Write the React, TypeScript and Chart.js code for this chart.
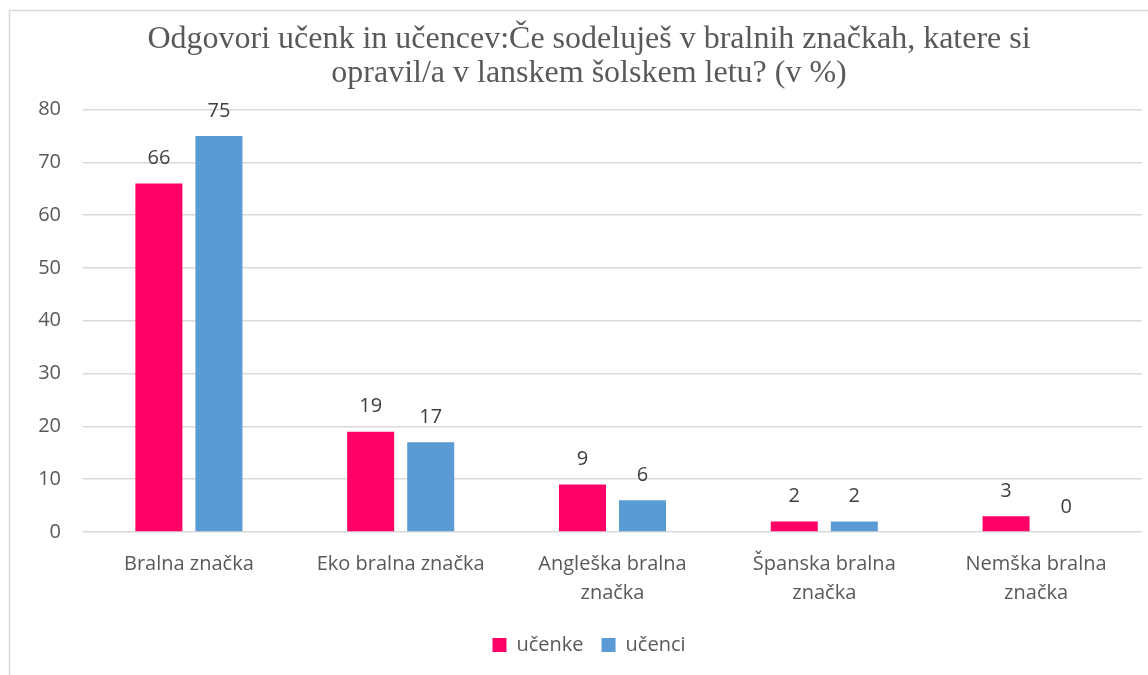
import React, { useEffect, useRef } from "react";
import { Chart, registerables } from "chart.js";

Chart.register(...registerables);

const categories: (string | string[])[] = [
  "Bralna značka",
  "Eko bralna značka",
  ["Angleška bralna", "značka"],
  ["Španska bralna", "značka"],
  ["Nemška bralna", "značka"],
];
const ucenke = [66, 19, 9, 2, 3];
const ucenci = [75, 17, 6, 2, 0];
const seriesNames = ["učenke", "učenci"];
const titleLines = [
  "Odgovori učenk in učencev:Če sodeluješ v bralnih značkah, katere si",
  "opravil/a v lanskem šolskem letu? (v %)",
];

const TEXT = "#595959";
const SANS = "'Open Sans', sans-serif";

const framePlugin = {
  id: "frame",
  beforeDraw(chart: any) {
    const ctx = chart.ctx;
    ctx.save();
    ctx.fillStyle = "#ffffff";
    ctx.fillRect(0, 0, chart.width, chart.height);
    ctx.strokeStyle = "#d9d9d9";
    ctx.lineWidth = 1.5;
    ctx.strokeRect(9.5, 10.5, 1300, 900);
    ctx.restore();
  },
};

const valueLabels = {
  id: "valueLabels",
  afterDatasetsDraw(chart: any) {
    const ctx = chart.ctx;
    ctx.save();
    ctx.font = `20px ${SANS}`;
    ctx.fillStyle = "#404040";
    ctx.textAlign = "center";
    ctx.textBaseline = "middle";
    chart.data.datasets.forEach((ds: any, i: number) => {
      const meta = chart.getDatasetMeta(i);
      meta.data.forEach((bar: any, j: number) => {
        ctx.fillText(String(ds.data[j]), bar.x, bar.y - 25);
      });
    });
    ctx.restore();
  },
};

export default function App() {
  const ref = useRef<HTMLCanvasElement>(null);
  useEffect(() => {
    if (!ref.current) return;
    const chart = new Chart(ref.current, {
      type: "bar",
      data: {
        labels: categories,
        datasets: [
          {
            label: seriesNames[0],
            data: ucenke,
            backgroundColor: "#FF0066",
            categoryPercentage: 0.567,
            barPercentage: 0.783,
          },
          {
            label: seriesNames[1],
            data: ucenci,
            backgroundColor: "#5B9BD5",
            categoryPercentage: 0.567,
            barPercentage: 0.783,
          },
        ],
      },
      options: {
        responsive: false,
        animation: false,
        layout: { padding: { top: 10, left: 36, right: 6, bottom: 10 } },
        plugins: {
          title: {
            display: true,
            text: titleLines,
            color: TEXT,
            font: { family: "'Liberation Serif', serif", size: 32, weight: "normal", lineHeight: 1.07 },
            padding: { top: 12, bottom: 19 },
          },
          legend: {
            position: "bottom",
            labels: {
              color: TEXT,
              font: { family: SANS, size: 20 },
              boxWidth: 14,
              boxHeight: 14,
              padding: 18,
            },
          },
          tooltip: { enabled: false },
        },
        scales: {
          x: {
            grid: { display: false },
            border: { display: false },
            ticks: {
              color: TEXT,
              font: { family: SANS, size: 20, lineHeight: 1.45 },
              padding: 10,
              maxRotation: 0,
              autoSkip: false,
            },
            afterFit(scale: any) {
              scale.height = 85;
            },
          },
          y: {
            min: 0,
            max: 80,
            grid: { color: "#d9d9d9", lineWidth: 1.5, drawTicks: false },
            border: { display: false },
            ticks: {
              stepSize: 10,
              color: TEXT,
              font: { family: SANS, size: 20 },
              padding: 22,
            },
            afterFit(scale: any) {
              scale.width = 47;
            },
          },
        },
      },
      plugins: [framePlugin, valueLabels],
    });
    return () => chart.destroy();
  }, []);
  return (
    <div style={{ position: "fixed", left: 0, top: 0, width: 1148, height: 675 }}>
      <canvas ref={ref} width={1148} height={675} />
    </div>
  );
}
